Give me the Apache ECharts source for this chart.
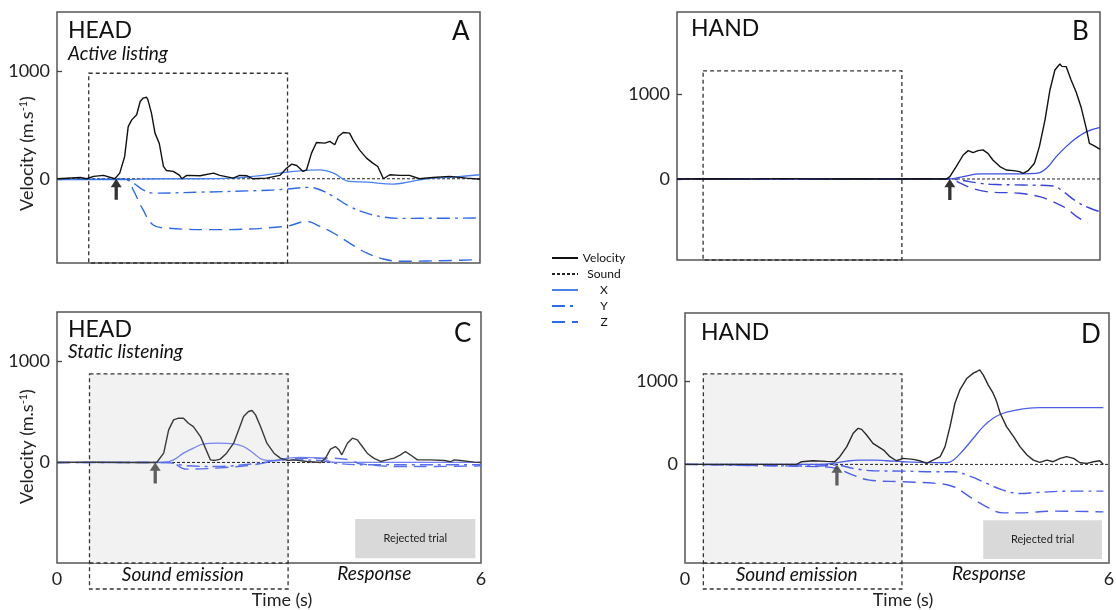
<!DOCTYPE html>
<html>
<head>
<meta charset="utf-8">
<script src="https://cdn.jsdelivr.net/npm/echarts@6/dist/echarts.min.js"></script>
<style>html,body{margin:0;padding:0;background:#fff}#c{width:1116px;height:610px}</style>
</head>
<body>
<div id="c"></div>
<script>
// ---------- DATA ----------
const legendNames = ['Velocity', 'Sound', 'X', 'Y', 'Z'];
const xTickLabels = [0, 6];
const yTickLabels = [0, 1000];

// Panel A: HEAD, active listening  [time (s), value]
const headActiveVelocity = [[0,0],[0.14,5],[0.33,12],[0.42,0],[0.52,22],[0.66,31],[0.82,0],[0.89,52],[0.96,207],[1.01,484],[1.06,546],[1.13,593],[1.18,716],[1.22,747],[1.27,756],[1.29,731],[1.34,608],[1.39,423],[1.45,330],[1.51,114],[1.55,77],[1.65,68],[1.74,31],[1.77,0],[1.84,31],[2.03,28],[2.22,52],[2.31,31],[2.50,6],[2.59,31],[2.69,28],[2.78,0],[2.97,6],[3.16,31],[3.26,99],[3.33,136],[3.40,123],[3.49,68],[3.54,83],[3.61,238],[3.68,336],[3.80,330],[3.87,346],[3.94,315],[3.99,392],[4.06,429],[4.15,423],[4.20,361],[4.29,268],[4.39,191],[4.48,145],[4.55,114],[4.63,0],[4.72,37],[4.86,31],[5.00,31],[5.14,0],[5.33,12],[5.57,22],[5.81,6],[6.0,-5]];
const headActiveX = [[0,-8],[0.9,-8],[1.5,0],[2.0,0],[2.5,5],[2.78,22],[3.16,52],[3.44,74],[3.73,83],[3.92,52],[4.15,-25],[4.39,-31],[4.77,-49],[4.96,-34],[5.24,0],[5.57,12],[6.0,37]];
const headActiveY = [[0,-5],[0.94,-5],[1.08,-40],[1.22,-102],[1.36,-133],[2.0,-125],[3.0,-106],[3.25,-96],[3.58,-80],[3.73,-102],[3.92,-164],[4.15,-256],[4.39,-318],[4.63,-355],[4.86,-367],[6.0,-364]];
const headActiveZ = [[0,-5],[0.99,-5],[1.08,-102],[1.22,-287],[1.36,-426],[1.55,-457],[2.26,-472],[3.25,-441],[3.54,-395],[3.73,-441],[3.92,-503],[4.15,-596],[4.39,-688],[4.63,-744],[4.86,-765],[6.0,-750]];

// Panel B: HAND, active listening
const handActiveVelocity = [[0,0],[0.5,3],[1,0],[1.5,4],[2,0],[2.5,3],[3,0],[3.5,2],[3.82,0],[3.87,28],[3.96,146],[4.06,283],[4.13,335],[4.20,311],[4.27,335],[4.34,343],[4.41,303],[4.48,224],[4.58,146],[4.67,106],[4.77,98],[4.86,87],[4.91,67],[4.98,98],[5.07,185],[5.14,382],[5.22,697],[5.29,1051],[5.36,1287],[5.43,1358],[5.46,1330],[5.48,1346],[5.52,1327],[5.59,1169],[5.66,1031],[5.73,854],[5.81,579],[5.85,421],[5.92,390],[6.0,350]];
const handActiveX = [[0,0],[3.87,0],[4.06,28],[4.3,59],[4.63,59],[5.1,67],[5.24,126],[5.38,264],[5.52,382],[5.66,480],[5.81,559],[6.0,610]];
const handActiveY = [[0,0],[3.87,0],[4.0,-10],[4.15,-31],[4.44,-63],[4.91,-71],[5.34,-83],[5.48,-150],[5.67,-268],[5.86,-346],[6.0,-386]];
const handActiveZ = [[0,0],[3.87,0],[3.92,-12],[4.15,-98],[4.39,-150],[4.86,-169],[5.14,-209],[5.33,-268],[5.52,-346],[5.67,-445],[5.83,-516]];

// Panel C: HEAD, static listening
const headStaticVelocity = [[0,0],[0.5,3],[1.0,0],[1.41,0],[1.51,92],[1.58,323],[1.65,422],[1.72,439],[1.79,439],[1.86,389],[1.93,356],[2.03,257],[2.10,142],[2.17,26],[2.24,20],[2.31,33],[2.40,92],[2.50,191],[2.57,323],[2.64,455],[2.71,505],[2.76,515],[2.81,472],[2.88,356],[2.97,191],[3.07,92],[3.16,43],[3.26,20],[3.35,26],[3.54,10],[3.73,0],[3.80,43],[3.87,132],[3.94,158],[3.99,125],[4.03,76],[4.11,191],[4.18,241],[4.25,224],[4.32,158],[4.39,92],[4.48,43],[4.58,10],[4.67,26],[4.77,43],[4.86,76],[4.93,109],[5.00,76],[5.10,26],[5.29,26],[5.48,20],[5.57,7],[5.62,26],[5.71,20],[5.90,3],[6.0,0]];
const headStaticX = [[0,0],[1.51,0],[1.65,26],[1.79,92],[1.93,142],[2.08,185],[2.26,191],[2.50,185],[2.64,158],[2.78,92],[2.92,26],[3.07,20],[3.26,43],[3.44,50],[3.73,43],[3.92,0],[4.15,0],[6.0,0]];
const headStaticY = [[0,0],[1.55,0],[1.83,-33],[2.26,-40],[2.78,-13],[3.26,26],[3.73,20],[3.92,-7],[4.39,-23],[5.33,-23],[6.0,-23]];
const headStaticZ = [[0,0],[1.6,0],[1.83,-66],[2.26,-56],[2.78,-23],[3.26,33],[3.73,43],[4.15,26],[4.29,-13],[4.86,-40],[5.33,-40],[6.0,-33]];

// Panel D: HAND, static listening
const handStaticVelocity = [[0,0],[0.5,0],[1.0,0],[1.58,0],[1.65,32],[1.81,44],[2.00,36],[2.12,32],[2.19,93],[2.29,214],[2.38,375],[2.45,435],[2.50,423],[2.57,355],[2.66,254],[2.81,173],[2.90,93],[2.99,44],[3.09,73],[3.23,60],[3.32,44],[3.42,12],[3.51,52],[3.61,93],[3.68,214],[3.75,456],[3.82,738],[3.89,899],[3.99,1040],[4.08,1101],[4.13,1121],[4.17,1141],[4.22,1081],[4.29,960],[4.36,859],[4.41,758],[4.46,617],[4.55,456],[4.65,335],[4.74,214],[4.84,113],[4.93,52],[5.02,24],[5.12,52],[5.21,32],[5.31,73],[5.40,93],[5.50,73],[5.59,20],[5.69,12],[5.78,32],[5.87,44],[5.92,0]];
const handStaticX = [[0,0],[1.91,0],[2.10,12],[2.29,40],[2.47,52],[2.66,52],[2.85,44],[3.09,32],[3.32,24],[3.70,20],[3.80,52],[3.94,173],[4.08,315],[4.22,456],[4.36,556],[4.50,617],[4.65,649],[4.84,677],[5.02,685],[5.92,685]];
const handStaticY = [[0,0],[1.91,-20],[2.14,-8],[2.38,-48],[2.66,-77],[3.09,-81],[3.56,-89],[3.80,-89],[4.03,-141],[4.27,-230],[4.50,-310],[4.74,-351],[4.98,-339],[5.45,-323],[5.92,-323]];
const handStaticZ = [[0,0],[1.91,-28],[2.14,-48],[2.38,-129],[2.61,-190],[3.09,-210],[3.56,-230],[3.80,-270],[4.03,-391],[4.27,-512],[4.50,-585],[4.74,-585],[5.21,-564],[5.92,-573]];

// Sound emission boxes [start s, end s, top value]
const soundBoxA = [0.45, 3.27, 978];
const soundBoxB = [0.37, 3.19, 1276];
const soundBoxC = [0.46, 3.27, 878];
const soundBoxD = [0.26, 3.07, 1093];
// Movement onset arrows (time, s)
const onsetA = 0.84, onsetB = 3.87, onsetC = 1.39, onsetD = 2.15;
// Y-axis ranges
const yRangeA = [-781, 1546], yRangeB = [-957, 1972], yRangeC = [-997, 1492], yRangeD = [-1190, 1827];
// "Response" label time and rejected-trial boxes [t0, t1, vTop, vBottom]
const responseC = 4.49, responseD = 4.30;
const rejectedC = [4.22, 5.92, -561, -950];
const rejectedD = [4.22, 5.90, -673, -1141];

// ---------- CHART ----------
const FF = 'Lato, "Open Sans", sans-serif';
const panels = [
  {title:'HEAD', sub:'Active listing', letter:'A', grid:{left:57, top:12, width:423, height:251}, yr:yRangeA,
   vel:headActiveVelocity, x:headActiveX, y:headActiveY, z:headActiveZ, box:soundBoxA, onset:onsetA,
   velColor:'#111', xColor:'#4a82ec', yzColor:'#2f6ae3', arrowColor:'#000', bottom:false, filled:false, yName:true, namePad:32},
  {title:'HAND', sub:'', letter:'B', grid:{left:677, top:12, width:423, height:248}, yr:yRangeB,
   vel:handActiveVelocity, x:handActiveX, y:handActiveY, z:handActiveZ, box:soundBoxB, onset:onsetB,
   velColor:'#111', xColor:'#3c4ddf', yzColor:'#3a44d8', arrowColor:'#000', bottom:false, filled:false, yName:false},
  {title:'HEAD', sub:'Static listening', letter:'C', grid:{left:57, top:312, width:424, height:251}, yr:yRangeC,
   vel:headStaticVelocity, x:headStaticX, y:headStaticY, z:headStaticZ, box:soundBoxC, onset:onsetC,
   velColor:'#3a3a3a', xColor:'#7484ef', yzColor:'#5a6fe9', arrowColor:'#3a3a3a', bottom:true, filled:true, yName:true, namePad:18,
   response:responseC, rejected:rejectedC, timePad:26},
  {title:'HAND', sub:'', letter:'D', grid:{left:685, top:313, width:424, height:250}, yr:yRangeD,
   vel:handStaticVelocity, x:handStaticX, y:handStaticY, z:handStaticZ, box:soundBoxD, onset:onsetD,
   velColor:'#2a2a2a', xColor:'#4c5fe6', yzColor:'#4c5fe6', arrowColor:'#3a3a3a', bottom:true, filled:true, yName:false,
   response:responseD, rejected:rejectedD, timePad:12}
];

const titles = [];
const titlePos = [
  {t:[68,19], s:[68,44], l:[452,19]},
  {t:[691,17], s:null, l:[1072,19]},
  {t:[68,318], s:[68,342], l:[454,321]},
  {t:[701,321], s:null, l:[1081,322]}
];
panels.forEach((p,i)=>{
  const tp = titlePos[i];
  titles.push({text:p.title, left:tp.t[0], top:tp.t[1], padding:0, textStyle:{fontSize:23, fontWeight:'normal', color:'#111', fontFamily:FF}});
  if (p.sub) titles.push({text:p.sub, left:tp.s[0], top:tp.s[1], padding:0, textStyle:{fontSize:19, fontStyle:'italic', fontWeight:'normal', color:'#111', fontFamily:FF}});
  titles.push({text:p.letter, left:tp.l[0], top:tp.l[1], padding:0, textStyle:{fontSize:26, fontWeight:'normal', color:'#111', fontFamily:FF}});
});

function boxRender(p) {
  return function(params, api) {
    const cs = params.coordSys;
    const a = api.coord([api.value(0), api.value(2)]);
    const b = api.coord([api.value(1), api.value(2)]);
    const bottom = cs.y + cs.height;
    const ext = p.bottom ? 26 : 0;
    const children = [];
    if (p.filled) children.push({type:'rect', shape:{x:a[0], y:a[1], width:b[0]-a[0], height:bottom-a[1]}, style:{fill:'#f2f2f2'}});
    children.push({type:'rect', shape:{x:a[0], y:a[1], width:b[0]-a[0], height:bottom+ext-a[1]}, style:{fill:'none', stroke:'#333', lineWidth:1.3, lineDash:[4,3]}});
    if (p.bottom) {
      children.push({type:'line', shape:{x1:a[0], y1:bottom, x2:b[0], y2:bottom}, style:{stroke:'#333', lineWidth:1.3, lineDash:[4,3]}});
      children.push({type:'text', style:{text:'Sound emission', x:(a[0]+b[0])/2 - 6, y:bottom+12, align:'center', verticalAlign:'middle', fontSize:19, fontStyle:'italic', fontFamily:FF, fill:'#111'}});
    }
    return {type:'group', children};
  };
}
function annRender(p) {
  return function(params, api) {
    const cs = params.coordSys;
    const bottom = cs.y + cs.height;
    const r = p.rejected;
    const a = api.coord([r[0], r[2]]);
    const b = api.coord([r[1], r[3]]);
    const rc = api.coord([p.response, 0]);
    return {type:'group', children:[
      {type:'rect', shape:{x:a[0], y:a[1], width:b[0]-a[0], height:b[1]-a[1]}, style:{fill:'#d9d9d9'}},
      {type:'text', style:{text:'Rejected trial', x:(a[0]+b[0])/2, y:(a[1]+b[1])/2, align:'center', verticalAlign:'middle', fontSize:11, fontFamily:FF, fill:'#222'}},
      {type:'text', style:{text:'Response', x:rc[0], y:bottom+11, align:'center', verticalAlign:'middle', fontSize:19, fontStyle:'italic', fontFamily:FF, fill:'#111'}}
    ]};
  };
}

const series = [];
panels.forEach((p,i)=>{
  const ax = {xAxisIndex:i, yAxisIndex:i};
  series.push(Object.assign({type:'custom', z:1, clip:false, silent:true, renderItem:boxRender(p), data:[p.box]}, ax));
  if (p.rejected) series.push(Object.assign({type:'custom', z:2, clip:false, silent:true, renderItem:annRender(p), data:[[0]]}, ax));
  series.push(Object.assign({type:'line', name:'Sound', z:3, symbol:'none', data:[[0,0],[6,0]], lineStyle:{color:'#222', width:1, type:[3,2]}, itemStyle:{color:'#222'}}, ax));
  series.push(Object.assign({type:'line', name:'X', z:4, symbol:'none', smooth:0.4, data:p.x, lineStyle:{color:p.xColor, width:1.3}, itemStyle:{color:p.xColor}}, ax));
  series.push(Object.assign({type:'line', name:'Y', z:4, symbol:'none', smooth:0.4, data:p.y, lineStyle:{color:p.yzColor, width:1.4, type:[13,5,3,5]}, itemStyle:{color:p.yzColor}}, ax));
  series.push(Object.assign({type:'line', name:'Z', z:4, symbol:'none', smooth:0.4, data:p.z, lineStyle:{color:p.yzColor, width:1.4, type:[13,7]}, itemStyle:{color:p.yzColor}}, ax));
  series.push(Object.assign({type:'line', name:'Velocity', z:5, symbol:'none', data:p.vel, lineStyle:{color:p.velColor, width:1.4}, itemStyle:{color:p.velColor}}, ax));
  series.push(Object.assign({type:'scatter', z:6, silent:true, data:[[p.onset,0]],
    symbol:'path://M5,0 L10,8 L6.5,8 L6.5,20 L3.5,20 L3.5,8 L0,8 Z', symbolSize:[11,21], symbolOffset:[0,'50%'],
    itemStyle:{color:p.arrowColor}}, ax));
});

const option = {
  animation:false,
  backgroundColor:'#fff',
  textStyle:{fontFamily:FF},
  title:titles,
  legend:{
    data:legendNames, orient:'vertical', left:546, top:247, itemWidth:26, itemHeight:10, itemGap:4,
    selectedMode:false, itemStyle:{opacity:0},
    formatter: name => '{c|' + name + '}',
    textStyle:{fontSize:12, color:'#111', fontFamily:FF, rich:{c:{fontSize:12, color:'#111', fontFamily:FF, width:42, align:'center'}}}
  },
  grid:panels.map(p=>Object.assign({show:true, borderColor:'#555', borderWidth:1.5, backgroundColor:'transparent', containLabel:false, outerBoundsMode:'none'}, p.grid)),
  xAxis:panels.map((p,i)=>({
    type:'value', gridIndex:i, min:0, max:6,
    splitLine:{show:false}, axisLine:{show:false}, axisTick:{show:false},
    axisLabel: p.bottom ? {customValues:xTickLabels, fontSize:18, color:'#222', margin:7, fontFamily:FF, formatter:v=>String(v)} : {show:false},
    name: p.bottom ? 'Time (s)' : '', nameLocation:'middle', nameGap:28, nameMoveOverlap:false,
    nameTextStyle:{fontSize:18, color:'#222', fontFamily:FF, padding:[0,0,0,p.timePad||0]}
  })),
  yAxis:panels.map((p,i)=>({
    type:'value', gridIndex:i, min:p.yr[0], max:p.yr[1],
    splitLine:{show:false}, axisLine:{show:false},
    axisTick:{show:true, inside:true, length:5, customValues:yTickLabels, lineStyle:{color:'#444', width:1.3}},
    axisLabel:{customValues:yTickLabels, fontSize:18, color:'#222', margin:7, fontFamily:FF, formatter:v=>String(v)},
    name: p.yName ? '{a|Velocity (m.s}{s|-1}{a|)}' : '', nameLocation:'middle', nameGap:21, nameRotate:90, nameMoveOverlap:false,
    nameTextStyle:{padding:[0,p.namePad||0,0,0], rich:{
      a:{fontSize:18, color:'#222', fontFamily:FF},
      s:{fontSize:11, color:'#222', fontFamily:FF, verticalAlign:'top'}
    }}
  })),
  series
};

const chart = echarts.init(document.getElementById('c'), null, {renderer:'canvas'});
chart.setOption(option);
</script>
</body>
</html>
